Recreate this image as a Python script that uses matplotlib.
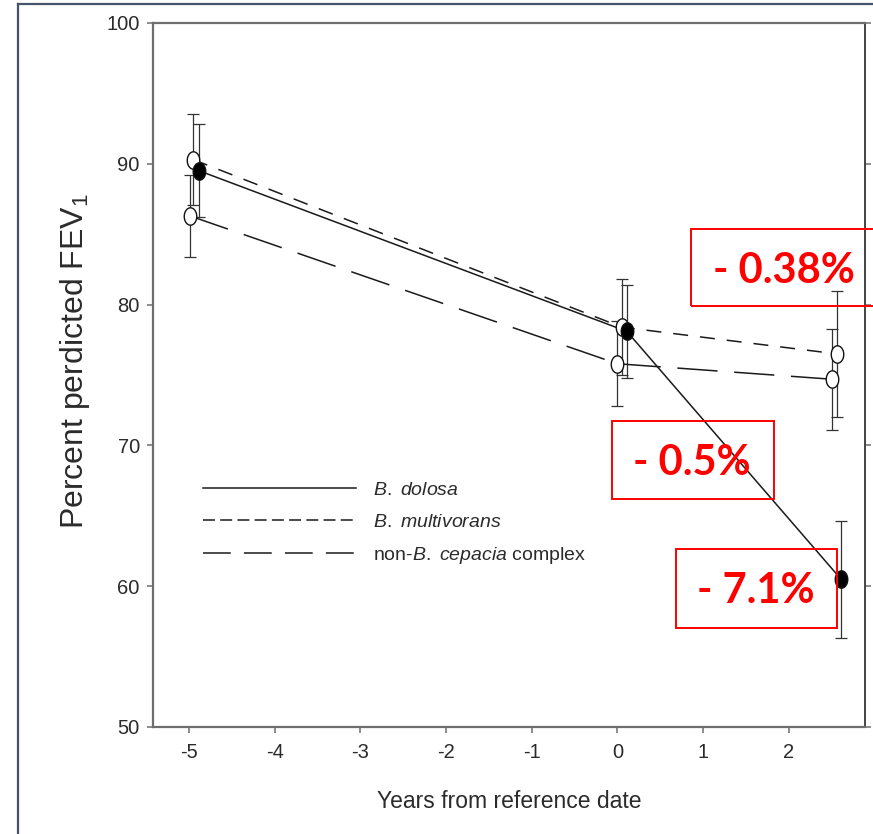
import matplotlib
matplotlib.use("Agg")
import matplotlib.pyplot as plt
from matplotlib import font_manager
from matplotlib.lines import Line2D
from matplotlib.patches import Rectangle
from matplotlib.path import Path
import numpy as np

# ---------------- data ----------------
years_dolosa = [-4.88, 0.11, 2.61]
fev_dolosa = [89.5, 78.1, 60.5]
err_dolosa = [3.3, 3.3, 4.15]

years_multi = [-4.95, 0.05, 2.56]
fev_multi = [90.3, 78.4, 76.5]
err_multi = [3.25, 3.4, 4.45]

years_nonbcc = [-4.99, 0.0, 2.50]
fev_nonbcc = [86.3, 75.8, 74.7]
err_nonbcc = [2.9, 3.0, 3.6]

xticks = [-5, -4, -3, -2, -1, 0, 1, 2]
xtick_labels = ["-5", "-4", "-3", "-2", "-1", "0", "1", "2"]
yticks = [50, 60, 70, 80, 90, 100]

labels = [r"$\mathit{B.}$ $\mathit{dolosa}$", r"$\mathit{B.}$ $\mathit{multivorans}$",
          r"non-$\mathit{B.}$ $\mathit{cepacia}$ complex"]
annotations = ["- 0.38%", "- 0.5%", "- 7.1%"]

# ---------------- fonts ----------------
avail = {f.name for f in font_manager.fontManager.ttflist}
narrow = "Liberation Sans Narrow" if "Liberation Sans Narrow" in avail else "Liberation Sans"
bold_font = "Lato" if "Lato" in avail else "DejaVu Sans"

plt.rcParams["font.family"] = [narrow, "DejaVu Sans"]
plt.rcParams["axes.unicode_minus"] = False
plt.rcParams["mathtext.fontset"] = "custom"
plt.rcParams["mathtext.it"] = narrow + ":italic"
plt.rcParams["mathtext.rm"] = narrow
plt.rcParams["mathtext.default"] = "regular"
plt.rcParams["lines.scale_dashes"] = False

W, H = 873, 834
fig = plt.figure(figsize=(W / 100, H / 100), dpi=100)
ax = fig.add_axes([153 / W, 1 - 727 / H, (865 - 153) / W, (727 - 23) / H])

# elliptical marker (reference image is vertically stretched)
t = np.linspace(0, 2 * np.pi, 60)
ell = Path(np.column_stack([0.72 * np.cos(t), np.sin(t)]), closed=True)

line_col = "#1a1a1a"
err_col = "#333333"

def series(xs, ys, es, dashes, face):
    ax.errorbar(xs, ys, yerr=es, fmt="none", ecolor=err_col, elinewidth=0.9,
                capsize=4, capthick=0.9, zorder=2)
    ln, = ax.plot(xs, ys, color=line_col, lw=1.1, zorder=3)
    if dashes is not None:
        ln.set_dashes(dashes)
    ax.plot(xs, ys, ls="none", marker=ell, markersize=12.5,
            markerfacecolor=face, markeredgecolor="#111111", markeredgewidth=1.0,
            zorder=4)

series(years_nonbcc, fev_nonbcc, err_nonbcc, (29, 12), "white")
series(years_multi, fev_multi, err_multi, (10.8, 8.6), "white")
series(years_dolosa, fev_dolosa, err_dolosa, None, "black")

ax.set_xlim(-5.42, 2.89)
ax.set_ylim(50, 100)
ax.set_xticks(xticks)
ax.set_xticklabels(xtick_labels)
ax.set_yticks(yticks)

spine_col = "#6e6e6e"
for s in ["left", "bottom", "top"]:
    ax.spines[s].set_color(spine_col)
    ax.spines[s].set_linewidth(1.6)
ax.spines["right"].set_color("#444444")
ax.spines["right"].set_linewidth(1.4)

ax.tick_params(axis="both", direction="out", length=4.5, width=1.1,
               color=spine_col, labelsize=14.5, labelcolor="#2b2b2b")
ax.tick_params(axis="x", pad=7)
ax.tick_params(axis="y", pad=5, right=True, labelright=False)

ax.set_xlabel("Years from reference date", fontsize=16.5, color="#2b2b2b")
ax.xaxis.set_label_coords(0.501, -0.09)
ax.set_ylabel("Percent perdicted FEV$_1$", fontsize=23, color="#2b2b2b",
              family=["Liberation Sans", "DejaVu Sans"])
ax.yaxis.set_label_coords(-0.085, 0.52)

# legend
handles = [
    Line2D([], [], color=line_col, lw=1.1),
    Line2D([], [], color=line_col, lw=1.1, dashes=(8.6, 3.8)),
    Line2D([], [], color=line_col, lw=1.1, dashes=(20, 9.5)),
]
leg = ax.legend(handles, labels, loc="center left",
                bbox_to_anchor=(0.070, 0.289), frameon=False, borderpad=0,
                borderaxespad=0, handlelength=7.9, handletextpad=0.85,
                labelspacing=0.72, prop={"family": narrow, "size": 14})
for txt in leg.get_texts():
    txt.set_color("#2b2b2b")

# figure border (top and left edge only are visible)
border = "#44546a"
fig.add_artist(Line2D([18 / W, 1], [1 - 4 / H, 1 - 4 / H], transform=fig.transFigure,
                      color=border, lw=1.6))
fig.add_artist(Line2D([18 / W, 18 / W], [0, 1 - 4 / H], transform=fig.transFigure,
                      color=border, lw=1.6))

# red annotation boxes
boxes = [(691, 229, 885, 306, 784, 283),
         (612, 421, 774, 499, 692, 475),
         (676, 549, 837, 628, 756, 603)]
for (x0, y0, x1, y1, cx, by), s in zip(boxes, annotations):
    fig.add_artist(Rectangle((x0 / W, 1 - y1 / H), (x1 - x0) / W, (y1 - y0) / H,
                             transform=fig.transFigure, fill=False,
                             edgecolor="#ff0000", lw=1.4, zorder=5))
    fig.text(cx / W, 1 - by / H, s, ha="center", va="baseline", color="#ff0000",
             fontsize=30, fontweight="bold", family=[bold_font, "DejaVu Sans"],
             zorder=6)

fig.savefig("out.png", dpi=100)
